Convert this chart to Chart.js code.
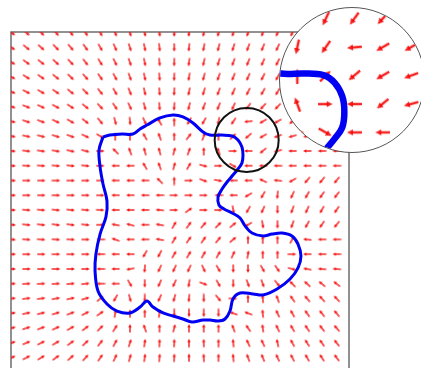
<!DOCTYPE html>
<html>
<head>
<meta charset="utf-8">
<script src="https://cdn.jsdelivr.net/npm/chart.js@4.4.1/dist/chart.umd.min.js"></script>
<style>
  html, body { margin: 0; padding: 0; background: #fff; overflow: hidden; }
  #wrap { position: relative; width: 421px; height: 368px; overflow: hidden; }
  #main { position: absolute; left: 0; top: 0; }
  #lens { position: absolute; left: 279px; top: 7px; width: 144px; height: 144px;
          border: 1px solid #555; border-radius: 50%; overflow: hidden; background: #fff; }
  #lens canvas { display: block; }
</style>
</head>
<body>
<div id="wrap">
  <canvas id="main" width="421" height="368"></canvas>
  <div id="lens"><canvas id="zoom" width="144" height="144"></canvas></div>
</div>
<script>
// Direction of the force field at each grid node (degrees, clockwise from +x, screen space).
// One array per grid row, top to bottom; 23 columns left to right.
const fieldAngles = [
  [38,41,44,48,52,57,62,67,72,78,84,90,96,101,105,108,110,112,114,116,118,120,122],
  [36,39,42,46,50,55,60,66,72,78,84,90,96,101,105,108,110,112,115,117,119,121,123],
  [33,36,39,43,47,52,58,64,71,78,85,91,98,103,107,110,112,114,117,119,121,123,125],
  [29,32,35,39,44,49,55,62,70,78,86,92,100,105,109,112,114,117,119,121,123,125,127],
  [24,27,30,34,39,45,52,60,68,77,86,93,102,107,111,114,117,120,122,124,126,128,130],
  [19,21,24,28,33,39,47,56,65,75,86,94,104,110,112,115,126,132,134,134,135,135,136],
  [15,18,20,25,30,38,50,75,85,65,240,270,120,120,102,125,175,150,150,140,145,145,145],
  [10,12,14,17,20,25,30,270,270,240,250,270,307,290,270,315,140,150,160,165,170,170,170],
  [6,7,8,10,12,14,0,225,250,255,255,285,290,270,250,0,180,140,165,180,180,180,180],
  [3,3,4,5,6,6,0,180,180,240,250,285,300,15,0,30,180,180,180,180,180,180,180],
  [0,0,0,0,0,0,0,180,180,180,225,270,0,20,10,180,180,205,185,150,130,130,130],
  [0,0,0,0,0,0,0,180,180,180,180,0,0,0,180,180,150,120,95,115,120,125,128],
  [3,4,5,6,6,5,3,180,180,180,185,0,325,0,0,80,120,115,90,110,115,120,125],
  [5,6,7,8,8,6,0,190,195,180,190,300,305,310,315,320,150,80,90,110,120,125,130],
  [3,3,3,3,2,0,180,200,180,180,190,300,305,305,310,320,270,270,270,300,185,180,180],
  [0,0,0,0,0,0,180,180,180,120,118,300,300,300,300,295,280,270,270,0,180,180,180],
  [0,0,0,0,0,0,180,180,170,95,115,115,115,65,60,90,90,60,55,15,190,185,185],
  [-3,-3,-3,-4,-5,-6,180,180,60,90,115,115,100,20,60,90,70,70,50,225,222,220,218],
  [-6,-7,-8,-10,-12,-16,-40,120,75,90,115,105,95,90,50,0,270,265,250,235,230,228,226],
  [-10,-12,-14,-17,-21,-27,-35,-80,-90,-90,-80,90,90,90,90,200,200,265,245,240,235,232,230],
  [-15,-18,-21,-25,-30,-37,-46,-58,-90,-110,-90,-75,-90,-90,270,250,235,262,245,240,236,233,230],
  [-20,-23,-27,-31,-36,-43,-52,-62,-72,-82,-88,-88,-90,-92,270,265,245,245,258,242,238,235,232],
  [-25,-28,-32,-36,-41,-48,-56,-65,-74,-82,-86,-88,-90,-93,270,265,250,248,245,243,240,237,234]
];

// Closed contour, in grid units (x = column, y = row).
const contourX = [6.17,6.64,7.46,8.20,8.68,9.15,10.03,10.92,11.59,12.27,12.95,13.42,14.24,14.92,15.32,15.59,15.66,15.59,15.32,14.98,14.58,14.24,13.97,14.03,14.37,14.92,15.46,15.80,16.27,17.02,17.63,18.31,18.98,19.39,19.59,19.39,18.85,17.97,17.02,16.34,15.46,14.98,14.78,14.44,13.97,13.42,12.95,12.20,11.59,10.92,10.24,9.56,9.15,8.68,8.00,7.12,6.44,5.83,5.63,5.69,5.97,6.37,6.44,6.17,5.97,5.90,6.17];
const contourY = [7.05,6.92,6.85,6.85,6.51,6.24,5.76,5.56,5.69,6.10,6.71,6.92,6.92,6.98,7.25,7.73,8.27,8.81,9.22,9.63,10.10,10.58,11.12,11.66,11.93,12.20,12.54,13.08,13.56,13.76,13.63,13.56,13.76,14.31,15.12,15.93,16.68,17.36,17.76,17.69,17.63,18.03,18.85,19.39,19.53,19.46,19.46,19.59,19.39,19.19,18.98,18.58,18.17,18.58,18.98,18.85,18.37,17.49,16.14,14.98,13.63,12.47,11.39,10.24,9.08,7.93,7.05];

// Magnified region: centre in grid units and half-width of the lens view.
const lensCenter = { x: 15.93, y: 7.15 };
const lensHalfSpan = 2.54;
const markerCenter = { x: 15.91, y: 7.25 };

// Build field points and their rotations from the angle table.
const fieldPoints = [];
const fieldRotation = [];
fieldAngles.forEach((row, j) => {
  row.forEach((a, i) => {
    fieldPoints.push({ x: i, y: j });
    fieldRotation.push(a);
  });
});
const contourPoints = contourX.map((x, k) => ({ x, y: contourY[k] }));

function arrowSprite(len, shaft, headLen, headW, color) {
  const c = document.createElement('canvas');
  c.width = Math.ceil(len) + 2;
  c.height = Math.ceil(headW) + 2;
  const g = c.getContext('2d');
  const cy = c.height / 2;
  g.strokeStyle = color;
  g.fillStyle = color;
  g.lineWidth = shaft;
  g.lineCap = 'round';
  g.beginPath();
  g.moveTo(1, cy);
  g.lineTo(1 + len - headLen + 0.5, cy);
  g.stroke();
  g.beginPath();
  g.moveTo(1 + len, cy);
  g.lineTo(1 + len - headLen, cy - headW / 2);
  g.lineTo(1 + len - headLen, cy + headW / 2);
  g.closePath();
  g.fill();
  return c;
}

const framePlugin = {
  id: 'frame',
  beforeDatasetsDraw(chart, args, opts) {
    if (!opts || !opts.show) return;
    const { ctx, chartArea: a } = chart;
    ctx.save();
    ctx.strokeStyle = '#6e6e6e';
    ctx.lineWidth = 1.5;
    ctx.beginPath();
    ctx.moveTo(a.left, a.bottom + 2);
    ctx.lineTo(a.left, a.top);
    ctx.lineTo(a.right, a.top);
    ctx.lineTo(a.right, a.bottom + 2);
    ctx.stroke();
    ctx.restore();
  }
};

function makeChart(canvas, cfg) {
  const datasets = [];
  if (cfg.marker) {
    datasets.push({
      data: [markerCenter],
      order: 0,
      clip: false,
      pointStyle: 'circle',
      pointRadius: 32,
      pointBorderWidth: 2,
      pointBorderColor: '#111',
      pointBackgroundColor: 'rgba(0,0,0,0)'
    });
  }
  datasets.push({
    data: contourPoints,
    order: 1,
    showLine: true,
    tension: 0.35,
    borderColor: '#0000f2',
    borderWidth: cfg.lineWidth,
    pointRadius: 0,
    fill: false
  });
  datasets.push({
    data: fieldPoints,
    order: 2,
    pointStyle: arrowSprite(cfg.arrow[0], cfg.arrow[1], cfg.arrow[2], cfg.arrow[3], 'rgba(245,0,0,0.85)'),
    pointRotation: fieldRotation,
    pointRadius: 4
  });
  return new Chart(canvas, {
    type: 'scatter',
    data: { datasets },
    options: {
      responsive: false,
      animation: false,
      events: [],
      layout: { padding: cfg.padding, autoPadding: false },
      plugins: { legend: { display: false }, tooltip: { enabled: false }, frame: { show: cfg.frame } },
      scales: {
        x: { type: 'linear', display: false, min: cfg.x[0], max: cfg.x[1] },
        y: { type: 'linear', display: false, reverse: true, min: cfg.y[0], max: cfg.y[1] }
      }
    },
    plugins: [framePlugin]
  });
}

makeChart(document.getElementById('main'), {
  marker: true,
  frame: true,
  lineWidth: 3,
  arrow: [8, 1.4, 3.4, 3.6],
  padding: { left: 11, top: 32, right: 72, bottom: 0 },
  x: [-0.068, 22.847],
  y: [-0.068, 22.712]
});

makeChart(document.getElementById('zoom'), {
  marker: false,
  frame: false,
  lineWidth: 6.5,
  arrow: [14, 2.6, 6, 6],
  padding: 0,
  x: [lensCenter.x - lensHalfSpan, lensCenter.x + lensHalfSpan],
  y: [lensCenter.y - lensHalfSpan, lensCenter.y + lensHalfSpan]
});
</script>
</body>
</html>
